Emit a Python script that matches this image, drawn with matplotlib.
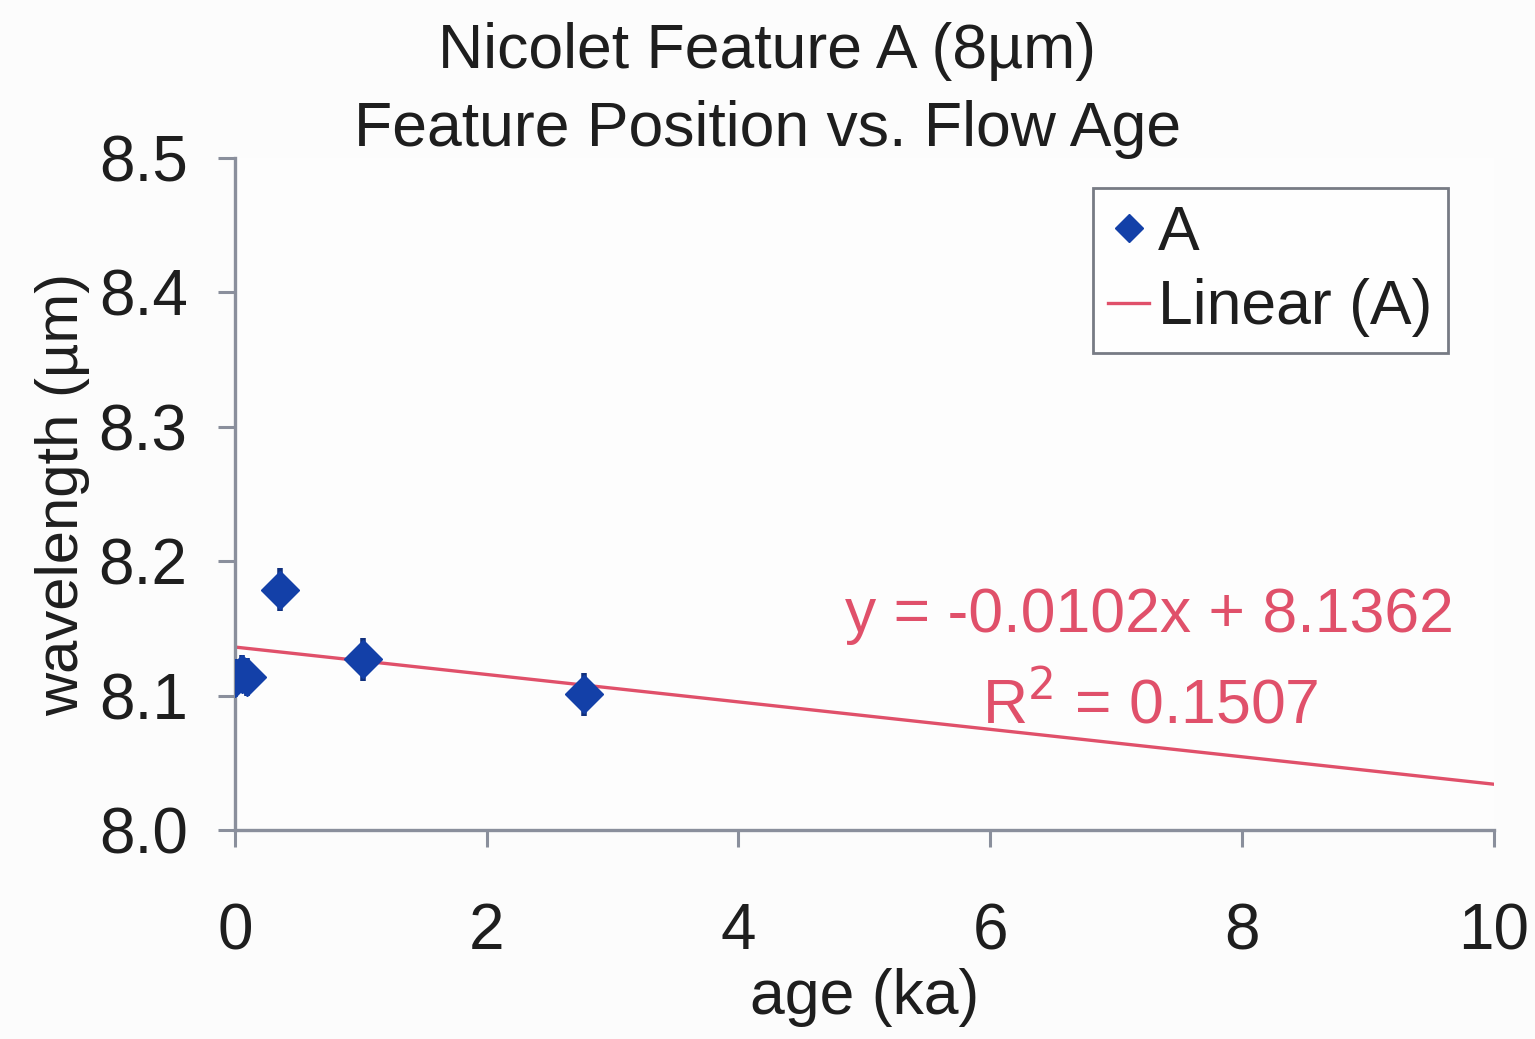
import matplotlib
matplotlib.use("Agg")
import matplotlib.pyplot as plt
from matplotlib.lines import Line2D

# Measured feature positions
age_ka = [0.0, 0.06, 0.1, 0.36, 1.02, 2.77]
wavelength_um = [8.113, 8.116, 8.114, 8.179, 8.127, 8.101]
err_um = [0.014, 0.014, 0.014, 0.016, 0.016, 0.016]

# Linear trend reported on the chart
slope = -0.0102
intercept = 8.1362
r_squared = 0.1507
fit_x = [0, 10]

x_ticks = [0, 2, 4, 6, 8, 10]
y_ticks = [8.0, 8.1, 8.2, 8.3, 8.4, 8.5]

plt.rcParams['font.family'] = ['Liberation Sans', 'DejaVu Sans']

blue = '#1340a8'
red = '#e0506a'
axis_gray = '#8a8f9c'
text_col = '#1e1e1e'

fig = plt.figure(figsize=(15.35, 10.39), dpi=100)
fig.patch.set_facecolor('#fcfcfc')
ax = fig.add_axes([0.153, 0.201, 0.820, 0.647])
ax.set_facecolor('#fdfdfd')

fit_y = [slope * x + intercept for x in fit_x]
ax.plot(fit_x, fit_y, color=red, lw=2.4, zorder=2)

ax.errorbar(age_ka, wavelength_um, yerr=err_um, fmt='D', color=blue,
            ecolor='#10307e', elinewidth=4, capsize=0, markersize=19,
            markeredgecolor=blue, zorder=3)

ax.set_xlim(0, 10)
ax.set_ylim(8.0, 8.5)
ax.set_xticks(x_ticks)
ax.set_yticks(y_ticks)
ax.set_xticklabels([str(t) for t in x_ticks])
ax.set_yticklabels([f"{t:.1f}" for t in y_ticks])

for side in ['top', 'right']:
    ax.spines[side].set_visible(False)
for side in ['left', 'bottom']:
    ax.spines[side].set_color(axis_gray)
    ax.spines[side].set_linewidth(2.4)

ax.tick_params(axis='both', direction='out', length=12, width=2.2,
               color=axis_gray, labelsize=46, labelcolor=text_col)
ax.tick_params(axis='x', pad=40)
ax.tick_params(axis='y', pad=22)

ax.set_xlabel('age (ka)', fontsize=45, color=text_col, labelpad=4)
ax.set_ylabel('wavelength (µm)', fontsize=43, color=text_col, labelpad=6)

fig.text(0.5, 0.950, 'Nicolet Feature A (8µm)', ha='center', va='center',
         fontsize=45, color=text_col)
fig.text(0.5, 0.875, 'Feature Position vs. Flow Age', ha='center', va='center',
         fontsize=45, color=text_col)

ax.text(7.27, 8.160, f"y = {slope:.4f}x + {intercept:.4f}", ha='center',
        va='center', fontsize=45, color=red)
ax.text(7.27, 8.093, f"R$^2$ = {r_squared:.4f}", ha='center',
        va='center', fontsize=45, color=red)

handles = [
    Line2D([], [], ls='none', marker='D', markersize=14, color=blue),
    Line2D([], [], color=red, lw=2.4),
]
leg = ax.legend(handles, ['A', 'Linear (A)'],
                loc='upper right', bbox_to_anchor=(0.964, 0.955),
                fontsize=45, frameon=True, fancybox=False,
                handlelength=0.65, handletextpad=0.15, borderpad=0.25,
                labelspacing=0.25, borderaxespad=0)
leg.get_frame().set_edgecolor('#555a66')
leg.get_frame().set_linewidth(2)
leg.get_frame().set_facecolor('white')
for t in leg.get_texts():
    t.set_color(text_col)

fig.savefig('out.png', dpi=100, facecolor=fig.get_facecolor())
